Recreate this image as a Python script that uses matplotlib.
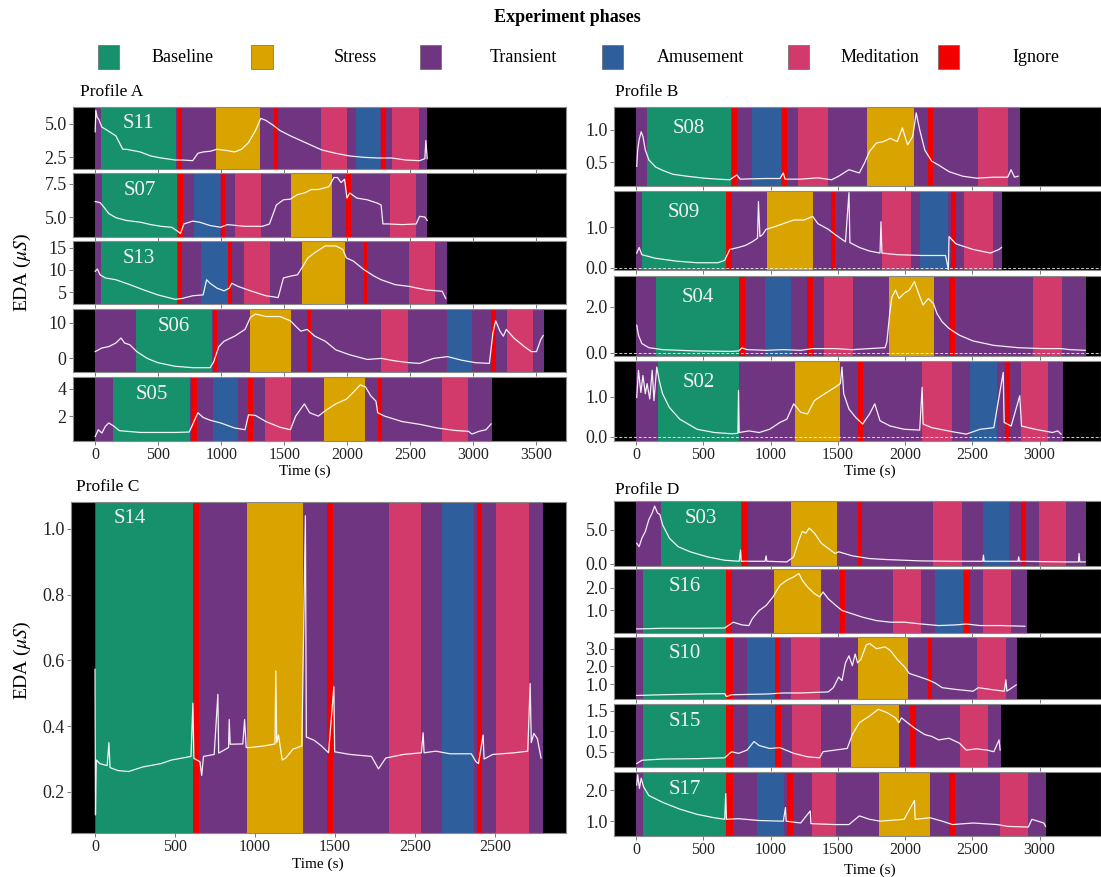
import matplotlib
matplotlib.use("Agg")
import matplotlib.pyplot as plt
from matplotlib.patches import Rectangle

plt.rcParams["font.family"] = ["Liberation Serif", "DejaVu Serif"]
plt.rcParams["mathtext.fontset"] = "stix"

W, H = 1101, 877

PHASE_NAMES = ["Baseline", "Stress", "Transient", "Amusement", "Meditation", "Ignore"]
PHASE_CODES = ["B", "S", "T", "A", "M", "I"]
PHASE_COLORS = ["#16916B", "#D9A400", "#703580", "#2F5E9C", "#D13A6A", "#F20000"]
COLOR = dict(zip(PHASE_CODES, PHASE_COLORS))

# ---- profile A ----
S11_SPAN = (0, 2635)
S11_PHASES = [("B", 48, 643), ("I", 654, 690), ("S", 962, 1305), ("I", 1419, 1452),
              ("M", 1793, 2001), ("A", 2070, 2264), ("I", 2269, 2305), ("M", 2353, 2566)]
S11_T = [0, 5, 15, 30, 53, 81, 164, 219, 247, 302, 358, 441, 524, 635, 690, 774, 815, 857,
         912, 967, 1050, 1106, 1161, 1217, 1272, 1314, 1355, 1411, 1466, 1549, 1632, 1715,
         1798, 1909, 2020, 2131, 2242, 2353, 2464, 2574, 2616, 2624, 2635]
S11_EDA = [4.4, 6.0, 5.5, 5.3, 4.75, 4.6, 4.1, 3.1, 3.1, 3.0, 2.9, 2.6, 2.45, 2.3, 2.3, 2.25,
           2.8, 2.9, 2.95, 3.1, 3.0, 2.9, 3.1, 3.6, 4.5, 5.4, 5.25, 4.9, 4.5, 4.1, 3.75, 3.4,
           3.05, 2.8, 2.6, 2.5, 2.45, 2.45, 2.3, 2.25, 2.4, 3.75, 2.4]

S07_SPAN = (0, 2635)
S07_PHASES = [("B", 53, 649), ("I", 657, 696), ("A", 782, 990), ("I", 995, 1028),
              ("M", 1111, 1314), ("S", 1555, 1882), ("I", 1992, 2026), ("M", 2339, 2547)]
S07_T = [0, 39, 67, 108, 164, 247, 358, 441, 524, 607, 649, 677, 704, 774, 829, 912, 995,
         1050, 1189, 1328, 1383, 1438, 1494, 1549, 1605, 1660, 1715, 1771, 1854, 1895, 1923,
         1951, 1979, 1998, 2020, 2076, 2159, 2242, 2269, 2283, 2325, 2436, 2547, 2574, 2616, 2635]
S07_EDA = [6.16, 6.08, 5.77, 5.26, 4.95, 4.74, 4.61, 4.43, 4.3, 4.23, 3.97, 3.76, 4.48, 4.69,
           4.61, 4.36, 4.23, 4.43, 4.3, 4.3, 4.48, 5.9, 6.29, 6.34, 6.68, 6.8, 7.06, 7.06, 7.27,
           7.96, 7.96, 7.58, 7.83, 6.42, 6.8, 6.42, 6.29, 6.03, 5.9, 4.48, 4.48, 4.43, 4.48,
           5.05, 5.0, 4.74]

S13_SPAN = (0, 2788)
S13_PHASES = [("B", 48, 649), ("I", 654, 690), ("A", 843, 1050), ("I", 1056, 1084),
              ("M", 1181, 1391), ("S", 1638, 1979), ("I", 2131, 2159), ("M", 2491, 2699)]
S13_T = [0, 17, 39, 81, 164, 275, 386, 497, 635, 690, 774, 857, 884, 912, 967, 1023, 1064,
         1084, 1134, 1244, 1355, 1452, 1494, 1549, 1605, 1632, 1688, 1743, 1826, 1909, 1965,
         1993, 2048, 2131, 2214, 2269, 2380, 2491, 2630, 2754, 2782]
S13_EDA = [9.7, 10.2, 8.9, 8.2, 7.8, 6.7, 5.5, 4.4, 3.4, 3.6, 4.2, 4.4, 7.8, 7.0, 5.9, 5.3,
           5.9, 7.0, 6.3, 5.2, 4.2, 3.8, 8.2, 8.6, 8.9, 10.1, 12.7, 13.9, 15.4, 15.4, 14.6,
           12.7, 12.0, 10.1, 8.6, 7.8, 6.7, 6.3, 5.5, 5.2, 3.6]

S06_SPAN = (0, 3558)
S06_PHASES = [("B", 324, 926), ("I", 931, 967), ("S", 1225, 1557), ("I", 1679, 1713),
              ("M", 2270, 2483), ("A", 2790, 2990), ("I", 3142, 3184), ("M", 3270, 3472)]
S06_T = [0, 53, 108, 164, 205, 233, 275, 330, 413, 497, 635, 774, 912, 940, 981, 1023, 1106,
         1189, 1231, 1272, 1355, 1466, 1549, 1591, 1632, 1682, 1743, 1826, 1909, 2020, 2159,
         2270, 2380, 2491, 2574, 2685, 2796, 2907, 3018, 3128, 3156, 3178, 3212, 3239, 3262,
         3322, 3405, 3461, 3502, 3535, 3555]
S06_EDA = [1.9, 2.9, 3.3, 4.3, 5.7, 4.3, 3.8, 1.9, 0.0, -1.2, -2.2, -2.6, -2.6, -1.0, 3.3,
           4.8, 6.2, 8.1, 11.4, 12.4, 11.7, 11.7, 10.5, 9.0, 7.6, 8.1, 6.2, 4.8, 2.4, 1.0,
           -0.3, 0.0, -0.7, -1.2, -1.4, 0.0, 0.5, -0.5, -1.2, -1.4, 7.1, 10.5, 7.6, 6.2, 8.1,
           5.7, 3.3, 1.9, 1.9, 5.2, 6.4]

S05_SPAN = (0, 3150)
S05_PHASES = [("B", 142, 754), ("I", 760, 807), ("A", 934, 1133), ("I", 1211, 1250),
              ("M", 1350, 1557), ("S", 1812, 2139), ("I", 2247, 2275), ("M", 2754, 2962)]
S05_T = [0, 25, 53, 81, 108, 150, 192, 358, 497, 635, 746, 774, 815, 857, 912, 995, 1106,
         1189, 1217, 1272, 1355, 1466, 1549, 1591, 1660, 1702, 1771, 1826, 1909, 1993, 2048,
         2103, 2145, 2186, 2228, 2242, 2297, 2436, 2574, 2713, 2851, 2962, 2990, 3045, 3101, 3142]
S05_EDA = [0.5, 1.0, 0.75, 1.25, 1.5, 1.25, 0.93, 0.8, 0.8, 0.8, 0.83, 1.4, 2.25, 1.9, 1.7,
           1.5, 1.13, 1.0, 2.1, 2.05, 1.6, 1.18, 1.0, 2.0, 2.9, 2.25, 2.0, 2.4, 2.9, 3.25, 3.75,
           4.3, 4.15, 3.5, 3.1, 2.25, 2.0, 1.6, 1.4, 1.13, 0.95, 0.88, 0.68, 0.88, 1.0, 1.43]

# ---- profile B ----
S08_SPAN = (0, 2853)
S08_PHASES = [("B", 82, 703), ("I", 710, 749), ("A", 864, 1077), ("I", 1082, 1121),
              ("M", 1206, 1424), ("S", 1716, 2070), ("I", 2168, 2206), ("M", 2545, 2763)]
S08_T = [5, 12, 23, 38, 51, 69, 95, 146, 197, 274, 377, 505, 608, 697, 749, 774, 864, 967,
         1070, 1095, 1108, 1224, 1352, 1454, 1506, 1583, 1660, 1698, 1736, 1788, 1839, 1890,
         1942, 1980, 2019, 2057, 2083, 2109, 2147, 2198, 2250, 2327, 2429, 2532, 2660, 2763,
         2788, 2814, 2840]
S08_EDA = [0.44, 0.69, 0.85, 0.97, 0.9, 0.69, 0.54, 0.43, 0.38, 0.32, 0.29, 0.26, 0.245,
           0.235, 0.31, 0.245, 0.25, 0.255, 0.255, 0.34, 0.245, 0.245, 0.265, 0.235, 0.29,
           0.39, 0.34, 0.49, 0.67, 0.8, 0.82, 0.87, 0.82, 1.03, 0.77, 0.9, 1.26, 1.0, 0.69,
           0.52, 0.46, 0.36, 0.29, 0.26, 0.275, 0.275, 0.39, 0.275, 0.29]

S09_SPAN = (0, 2724)
S09_PHASES = [("B", 43, 672), ("I", 672, 710), ("S", 974, 1318), ("I", 1447, 1480),
              ("M", 1826, 2044), ("A", 2109, 2322), ("I", 2340, 2378), ("M", 2442, 2655)]
S09_T = [5, 23, 43, 146, 300, 454, 608, 659, 697, 762, 813, 864, 903, 910, 921, 941, 967,
         1018, 1095, 1172, 1249, 1313, 1352, 1429, 1480, 1557, 1583, 1590, 1660, 1736, 1814,
         1821, 1828, 1942, 2122, 2301, 2322, 2327, 2378, 2506, 2635, 2699, 2717]
S09_EDA = [0.36, 0.5, 0.32, 0.23, 0.16, 0.12, 0.12, 0.18, 0.45, 0.5, 0.55, 0.64, 0.73, 1.64,
           0.77, 0.82, 0.95, 1.0, 1.09, 1.18, 1.18, 1.27, 1.09, 0.95, 0.82, 0.64, 1.86, 0.62,
           0.5, 0.41, 0.36, 1.14, 0.36, 0.32, 0.3, 0.3, -0.05, 0.77, 0.59, 0.45, 0.36, 0.45, 0.5]

S04_SPAN = (0, 3345)
S04_PHASES = [("B", 151, 762), ("I", 762, 813), ("A", 959, 1154), ("I", 1270, 1313),
              ("M", 1398, 1616), ("S", 1883, 2219), ("I", 2327, 2373), ("M", 2955, 3168)]
S04_T = [5, 18, 43, 95, 197, 454, 710, 762, 787, 826, 967, 1095, 1224, 1313, 1480, 1608,
         1736, 1852, 1865, 1886, 1903, 1929, 1955, 1993, 2032, 2070, 2096, 2134, 2173, 2211,
         2237, 2276, 2327, 2404, 2506, 2660, 2840, 3020, 3161, 3225, 3340]
S04_EDA = [1.2, 0.77, 0.41, 0.23, 0.145, 0.087, 0.07, 0.087, 0.22, 0.145, 0.116, 0.145,
           0.116, 0.19, 0.19, 0.145, 0.19, 0.23, 0.48, 1.71, 2.43, 2.72, 2.36, 2.58, 2.72,
           3.09, 2.65, 2.07, 2.36, 2.14, 1.71, 1.35, 1.06, 0.77, 0.52, 0.33, 0.23, 0.19,
           0.19, 0.145, 0.116]

S02_SPAN = (0, 3173)
S02_PHASES = [("B", 164, 762), ("S", 1185, 1513), ("I", 1647, 1685), ("M", 2129, 2347),
              ("A", 2486, 2681), ("I", 2742, 2783), ("M", 2860, 3066)]
S02_T = [5, 18, 36, 51, 69, 82, 102, 120, 133, 154, 172, 197, 248, 325, 454, 582, 710, 757,
         762, 767, 839, 916, 993, 1070, 1121, 1172, 1224, 1275, 1326, 1403, 1480, 1519, 1531,
         1544, 1583, 1634, 1685, 1736, 1775, 1814, 1890, 1993, 2109, 2127, 2134, 2199, 2352,
         2455, 2558, 2660, 2730, 2737, 2789, 2853, 2866, 2968, 3096, 3135, 3160]
S02_EDA = [0.98, 1.65, 1.1, 1.52, 1.07, 1.32, 0.94, 1.65, 0.9, 1.73, 1.4, 1.07, 0.73, 0.44,
           0.19, 0.11, 0.08, 0.09, 1.15, 0.11, 0.15, 0.11, 0.19, 0.36, 0.44, 0.82, 0.61, 0.57,
           0.9, 1.07, 1.23, 1.32, 1.73, 1.07, 0.69, 0.48, 0.32, 0.57, 0.82, 0.4, 0.27, 0.19,
           0.17, 1.23, 0.32, 0.23, 0.13, 0.07, 0.19, 0.23, 1.6, 0.36, 0.27, 1.02, 0.27, 0.19,
           0.11, 0.15, 0.07]

# ---- profile C ----
S14_SPAN = (0, 2799)
S14_PHASES = [("B", 4, 612), ("I", 612, 652), ("S", 951, 1299), ("I", 1453, 1486),
              ("M", 1835, 2040), ("A", 2169, 2370), ("I", 2386, 2419), ("M", 2504, 2710)]
S14_T = [0, 3, 8, 31, 76, 87, 94, 143, 210, 299, 411, 478, 545, 600, 612, 618, 656, 667,
         678, 745, 768, 773, 835, 839, 845, 924, 935, 945, 969, 1058, 1125, 1130, 1136, 1147,
         1170, 1192, 1237, 1293, 1315, 1321, 1370, 1415, 1460, 1493, 1498, 1594, 1728, 1772,
         1817, 1928, 2040, 2051, 2057, 2130, 2219, 2352, 2381, 2397, 2426, 2432, 2486, 2620,
         2705, 2720, 2727, 2743, 2765, 2788]
S14_EDA = [0.573, 0.13, 0.297, 0.286, 0.28, 0.35, 0.274, 0.265, 0.262, 0.276, 0.286, 0.297,
           0.303, 0.308, 0.47, 0.302, 0.292, 0.25, 0.308, 0.314, 0.497, 0.318, 0.335, 0.42,
           0.345, 0.346, 0.42, 0.335, 0.335, 0.34, 0.346, 0.568, 0.35, 0.373, 0.297, 0.303,
           0.33, 0.34, 1.04, 0.367, 0.357, 0.34, 0.319, 0.52, 0.322, 0.314, 0.308, 0.27,
           0.303, 0.314, 0.319, 0.38, 0.319, 0.324, 0.316, 0.316, 0.292, 0.286, 0.373, 0.3,
           0.314, 0.319, 0.324, 0.53, 0.35, 0.378, 0.362, 0.303]

# ---- profile D ----
S03_SPAN = (0, 3345)
S03_PHASES = [("B", 184, 780), ("I", 787, 834), ("S", 1154, 1493), ("I", 1647, 1680),
              ("M", 2211, 2424), ("A", 2578, 2776), ("I", 2860, 2899), ("M", 2994, 3194)]
S03_T = [5, 23, 43, 69, 95, 120, 138, 159, 177, 197, 248, 313, 402, 531, 659, 767, 777, 782,
         864, 959, 967, 972, 1121, 1172, 1211, 1236, 1262, 1288, 1326, 1378, 1429, 1480,
         1506, 1608, 1736, 1865, 2121, 2378, 2578, 2583, 2588, 2840, 2845, 2850, 3199, 3289,
         3294, 3299, 3340]
S03_EDA = [3.0, 2.5, 3.75, 4.75, 6.5, 7.5, 8.5, 7.5, 7.25, 5.75, 3.75, 2.5, 1.75, 1.0, 0.5,
           0.35, 2.0, 0.35, 0.35, 0.35, 1.15, 0.35, 0.25, 1.0, 3.5, 4.75, 4.5, 5.25, 4.5, 3.0,
           2.25, 1.5, 1.75, 1.15, 0.75, 0.6, 0.4, 0.35, 0.35, 1.25, 0.35, 0.35, 1.0, 0.35,
           0.25, 0.25, 1.5, 0.25, 0.25]

S16_SPAN = (0, 2904)
S16_PHASES = [("B", 51, 667), ("I", 667, 710), ("S", 1023, 1377), ("I", 1519, 1557),
              ("M", 1911, 2121), ("A", 2224, 2429), ("I", 2442, 2481), ("M", 2578, 2788)]
S16_T = [5, 197, 454, 659, 685, 723, 787, 839, 864, 916, 967, 1018, 1070, 1121, 1172, 1211,
         1236, 1275, 1326, 1365, 1390, 1429, 1480, 1531, 1608, 1685, 1788, 1890, 1993, 2121,
         2250, 2378, 2455, 2558, 2711, 2891]
S16_EDA = [0.18, 0.21, 0.21, 0.22, 0.33, 0.48, 0.36, 0.33, 0.63, 1.0, 1.22, 1.6, 2.12, 2.34,
           2.49, 2.64, 2.34, 2.04, 1.75, 1.6, 1.82, 1.52, 1.25, 1.0, 0.85, 0.7, 0.55, 0.48,
           0.48, 0.4, 0.33, 0.36, 0.4, 0.33, 0.33, 0.3]

S10_SPAN = (0, 2835)
S10_PHASES = [("B", 51, 667), ("I", 667, 718), ("A", 826, 1031), ("I", 1031, 1070),
              ("M", 1154, 1370), ("S", 1647, 2024), ("I", 2168, 2199), ("M", 2537, 2750)]
S10_T = [5, 197, 454, 659, 672, 710, 967, 1095, 1224, 1429, 1467, 1506, 1531, 1557, 1583,
         1608, 1629, 1647, 1672, 1711, 1736, 1788, 1852, 1890, 1942, 1993, 2032, 2096, 2173,
         2224, 2276, 2378, 2506, 2545, 2635, 2737, 2750, 2757, 2827]
S10_EDA = [0.36, 0.4, 0.44, 0.46, 0.3, 0.4, 0.44, 0.5, 0.5, 0.56, 0.8, 1.4, 1.2, 2.2, 2.6,
           2.04, 2.7, 2.2, 2.4, 3.2, 3.3, 3.0, 3.1, 2.9, 2.4, 2.0, 1.6, 1.44, 1.24, 1.06, 0.8,
           0.7, 0.6, 0.8, 0.7, 0.6, 1.24, 0.6, 0.96]

S15_SPAN = (0, 2712)
S15_PHASES = [("B", 51, 667), ("I", 667, 718), ("A", 831, 1031), ("I", 1031, 1077),
              ("M", 1159, 1377), ("S", 1595, 1955), ("I", 2039, 2078), ("M", 2411, 2617)]
S15_T = [5, 43, 197, 454, 659, 710, 762, 826, 877, 916, 993, 1070, 1172, 1275, 1365, 1390,
         1480, 1570, 1608, 1660, 1736, 1801, 1865, 1929, 1955, 1973, 2019, 2070, 2147, 2199,
         2250, 2327, 2404, 2455, 2532, 2609, 2660, 2699, 2707]
S15_EDA = [0.21, 0.29, 0.32, 0.33, 0.35, 0.5, 0.46, 0.54, 0.75, 0.65, 0.58, 0.6, 0.46, 0.375,
           0.35, 0.5, 0.54, 0.58, 0.92, 1.21, 1.375, 1.54, 1.46, 1.33, 1.21, 1.33, 1.21, 1.08,
           0.92, 0.875, 0.79, 0.83, 0.71, 0.54, 0.57, 0.54, 0.5, 0.79, 0.54]

S17_SPAN = (0, 3050)
S17_PHASES = [("B", 51, 667), ("I", 667, 718), ("A", 898, 1100), ("I", 1126, 1164),
              ("M", 1308, 1488), ("S", 1806, 2186), ("I", 2327, 2373), ("M", 2706, 2917)]
S17_T = [5, 12, 25, 38, 56, 95, 197, 325, 454, 582, 659, 667, 672, 762, 916, 1095, 1111,
         1116, 1224, 1295, 1300, 1480, 1583, 1660, 1736, 1814, 1993, 2070, 2075, 2186, 2276,
         2353, 2506, 2686, 2763, 2917, 2943, 3032, 3045]
S17_EDA = [2.17, 2.5, 2.06, 2.39, 2.11, 1.83, 1.61, 1.39, 1.22, 1.11, 1.06, 1.89, 1.06,
           1.08, 1.02, 1.0, 1.44, 1.0, 0.94, 1.33, 0.92, 0.89, 0.89, 1.17, 1.06, 1.0, 1.06,
           1.67, 1.06, 1.11, 1.0, 0.89, 0.94, 0.89, 0.83, 0.81, 1.06, 0.94, 0.83]

# y ticks per subject
YT = {
    "S11": ["2.5", "5.0"], "S07": ["5.0", "7.5"], "S13": ["5", "10", "15"],
    "S06": ["0", "10"], "S05": ["2", "4"],
    "S08": ["0.5", "1.0"], "S09": ["0.0", "1.0"], "S04": ["0.0", "2.0"], "S02": ["0.0", "1.0"],
    "S14": ["0.2", "0.4", "0.6", "0.8", "1.0"],
    "S03": ["0.0", "5.0"], "S16": ["1.0", "2.0"], "S10": ["1.0", "2.0", "3.0"],
    "S15": ["0.5", "1.0", "1.5"], "S17": ["1.0", "2.0"],
}
YLIM = {
    "S11": (1.63, 6.25), "S07": (3.5, 8.3), "S13": (2.35, 16.5), "S06": (-3.8, 13.8),
    "S05": (0.17, 4.88), "S08": (0.14, 1.35), "S09": (-0.06, 1.9), "S04": (-0.13, 3.33),
    "S02": (-0.1, 1.88), "S14": (0.075, 1.082), "S03": (-0.35, 9.25), "S16": (0.0, 2.84),
    "S10": (0.16, 3.66), "S15": (0.125, 1.67), "S17": (0.52, 2.59),
}

X_AB = [0, 500, 1000, 1500, 2000, 2500, 3000, 3500]
X_BD = [0, 500, 1000, 1500, 2000, 2500, 3000]
X_C = [0, 500, 1000, 1500, 2000, 2500]
X_C_LABELS = ["0", "500", "1000", "1500", "2500", "2500"]

fig = plt.figure(figsize=(W / 100, H / 100), dpi=100)


def add_ax(x0, y0, x1, y1):
    return fig.add_axes([x0 / W, 1 - y1 / H, (x1 - x0) / W, (y1 - y0) / H])


def panel(ax, name, span, phases, t, eda, xlim, xticks, show_x, xlabels=None,
          label_y=0.73, zero_line=False, label_dx=0):
    ax.set_facecolor("black")
    ax.axvspan(span[0], span[1], color=COLOR["T"], lw=0, zorder=1)
    for code, a, b in phases:
        ax.axvspan(a, b, color=COLOR[code], lw=0, zorder=2)
    if zero_line:
        ax.axhline(0, color="white", lw=0.7, ls=(0, (3, 2)), alpha=0.8, zorder=3)
    ax.plot(t, eda, color="white", lw=0.9, alpha=0.92, zorder=4)
    ax.set_xlim(*xlim)
    ax.set_ylim(*YLIM[name])
    yt = YT[name]
    ax.set_yticks([float(v) for v in yt])
    ax.set_yticklabels(yt, fontsize=13)
    ax.set_xticks(xticks)
    if show_x:
        ax.set_xticklabels(xlabels if xlabels else [str(v) for v in xticks], fontsize=11.5)
    else:
        ax.set_xticklabels([])
    ax.tick_params(length=3, width=0.7, color="#777777", pad=1.5, labelcolor="#222222")
    for s in ax.spines.values():
        s.set_color("#8a8a8a")
        s.set_linewidth(0.8)
    base = [p for p in phases if p[0] == "B"][0]
    ax.text((base[1] + base[2]) / 2 + label_dx, YLIM[name][0] + label_y * (YLIM[name][1] - YLIM[name][0]),
            name, color="#F2F2F2", fontsize=15, ha="center", va="center", zorder=5)


# profile A
XL_A = (-176, 3736)
rows_a = [("S11", S11_SPAN, S11_PHASES, S11_T, S11_EDA, 107, 169),
          ("S07", S07_SPAN, S07_PHASES, S07_T, S07_EDA, 173, 237),
          ("S13", S13_SPAN, S13_PHASES, S13_T, S13_EDA, 241, 304),
          ("S06", S06_SPAN, S06_PHASES, S06_T, S06_EDA, 309, 372),
          ("S05", S05_SPAN, S05_PHASES, S05_T, S05_EDA, 377, 441)]
for i, (nm, sp, ph, t, v, y0, y1) in enumerate(rows_a):
    ax = add_ax(73, y0, 566, y1)
    panel(ax, nm, sp, ph, t, v, XL_A, X_AB, i == len(rows_a) - 1)

# profile B
XL_B = (-164, 3457)
rows_b = [("S08", S08_SPAN, S08_PHASES, S08_T, S08_EDA, 107, 186, False),
          ("S09", S09_SPAN, S09_PHASES, S09_T, S09_EDA, 191, 270, True),
          ("S04", S04_SPAN, S04_PHASES, S04_T, S04_EDA, 276, 356, True),
          ("S02", S02_SPAN, S02_PHASES, S02_T, S02_EDA, 361, 441, True)]
for i, (nm, sp, ph, t, v, y0, y1, zl) in enumerate(rows_b):
    ax = add_ax(614, y0, 1101, y1)
    panel(ax, nm, sp, ph, t, v, XL_B, X_BD, i == len(rows_b) - 1, zero_line=zl)

# profile C
ax = add_ax(71, 502, 566, 833)
panel(ax, "S14", S14_SPAN, S14_PHASES, S14_T, S14_EDA, (-150, 2944), X_C, True,
      xlabels=X_C_LABELS, label_y=0.95, label_dx=-90)

# profile D
rows_d = [("S03", S03_SPAN, S03_PHASES, S03_T, S03_EDA, 501, 566),
          ("S16", S16_SPAN, S16_PHASES, S16_T, S16_EDA, 569, 633),
          ("S10", S10_SPAN, S10_PHASES, S10_T, S10_EDA, 637, 699),
          ("S15", S15_SPAN, S15_PHASES, S15_T, S15_EDA, 704, 767),
          ("S17", S17_SPAN, S17_PHASES, S17_T, S17_EDA, 772, 836)]
for i, (nm, sp, ph, t, v, y0, y1) in enumerate(rows_d):
    ax = add_ax(614, y0, 1101, y1)
    panel(ax, nm, sp, ph, t, v, XL_B, X_BD, i == len(rows_d) - 1)

# titles and axis labels
def ftext(x, y, s, **kw):
    fig.text(x / W, 1 - y / H, s, **kw)

ftext(80, 92, "Profile A", fontsize=12.5, va="center")
ftext(615, 92, "Profile B", fontsize=12.5, va="center")
ftext(76, 487, "Profile C", fontsize=12.5, va="center")
ftext(615, 490, "Profile D", fontsize=12.5, va="center")
ftext(305, 471, "Time (s)", fontsize=11, ha="center", va="center")
ftext(870, 471, "Time (s)", fontsize=11, ha="center", va="center")
ftext(318, 864, "Time (s)", fontsize=11, ha="center", va="center")
ftext(870, 870, "Time (s)", fontsize=11, ha="center", va="center")
ftext(22, 272, r"EDA ($\mu S$)", fontsize=14, rotation=90, ha="center", va="center")
ftext(22, 660, r"EDA ($\mu S$)", fontsize=14, rotation=90, ha="center", va="center")

# legend
ftext(567, 18, "Experiment phases", fontsize=13, fontweight="bold", ha="center", va="center")
key_x = [108, 262, 430, 612, 798, 948]
lab_x = [183, 355, 523, 700, 880, 1036]
for kx, lx, nm, col in zip(key_x, lab_x, PHASE_NAMES, PHASE_COLORS):
    fig.patches.append(Rectangle(((kx - 10.5) / W, 1 - 69 / H), 21 / W, 24 / H,
                                 transform=fig.transFigure, facecolor=col,
                                 edgecolor="#666666", lw=0.5))
    ftext(lx, 57, nm, fontsize=13, ha="center", va="center")

fig.savefig("out.png", dpi=100)
